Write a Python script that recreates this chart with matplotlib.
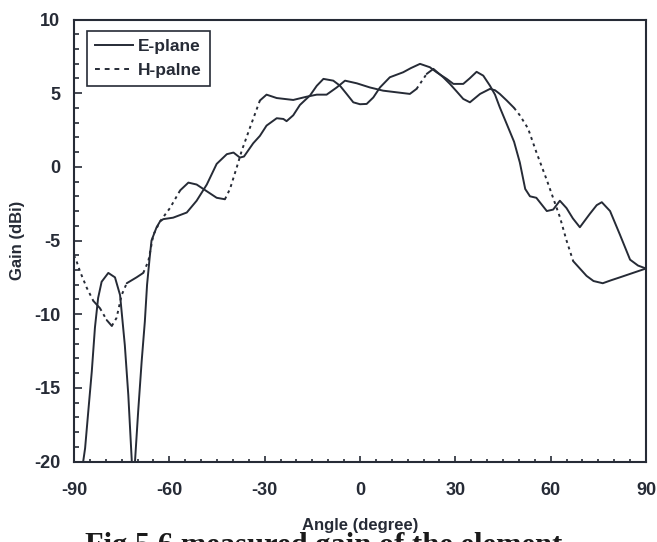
import numpy as np
import matplotlib
matplotlib.use('Agg')
import matplotlib.pyplot as plt
from matplotlib.lines import Line2D
from matplotlib.ticker import MultipleLocator

# Measured gain of the element, E-plane cut (angle in degree, gain in dBi)
e_angle = [-88.0, -87.1, -86.5, -85.5, -84.4, -83.4, -82.4, -81.3, -79.2, -77.1,
           -75.5, -74.0, -72.9, -71.8, -71.3, -70.8, -69.8, -68.7, -67.7, -67.0,
           -66.2, -65.6, -64.0, -62.9, -61.9, -58.8, -54.5, -51.4, -48.2, -45.1,
           -41.9, -39.8, -37.8, -36.5, -33.6, -31.5, -29.4, -26.2, -24.1, -23.1,
           -21.0, -18.9, -15.7, -13.6, -11.5, -8.4, -6.3, -4.2, -2.1, 0.0,
           2.1, 4.2, 6.3, 9.4, 13.6, 16.0, 18.9, 22.0, 24.1, 27.3,
           29.4, 32.5, 34.5, 36.7, 38.8, 40.9, 42.5, 44.0, 46.2, 48.5,
           50.3, 52.0, 53.5, 55.5, 58.8, 60.8, 62.9, 65.0, 67.0, 69.2,
           72.3, 74.5, 76.1, 78.7, 81.8, 85.0, 87.5, 90.0]
e_gain = [-24.0, -20.0, -19.1, -16.6, -13.9, -10.9, -8.9, -7.8, -7.2, -7.5,
          -8.7, -12.1, -15.5, -20.0, -24.0, -20.0, -16.6, -13.2, -10.5, -8.0,
          -6.2, -5.0, -4.1, -3.7, -3.55, -3.45, -3.1, -2.3, -1.2, 0.2,
          0.86, 0.97, 0.63, 0.7, 1.6, 2.1, 2.8, 3.3, 3.25, 3.1,
          3.5, 4.2, 4.85, 5.5, 5.97, 5.85, 5.51, 4.95, 4.38, 4.25,
          4.27, 4.71, 5.39, 6.08, 6.42, 6.7, 6.99, 6.76, 6.42, 5.97,
          5.63, 5.63, 6.0, 6.45, 6.19, 5.51, 4.9, 4.04, 2.9, 1.7,
          0.3, -1.5, -2.0, -2.1, -3.0, -2.9, -2.3, -2.8, -3.5, -4.1,
          -3.2, -2.6, -2.4, -3.0, -4.6, -6.3, -6.7, -6.9]

# H-plane cut
h_angle = [-90.0, -89.2, -88.1, -86.0, -83.9, -81.8, -79.7, -78.1, -76.6, -75.0,
           -73.4, -70.3, -68.2, -66.6, -65.0, -62.9, -59.8, -56.6, -54.0, -51.4,
           -49.3, -45.1, -42.5, -40.9, -38.8, -37.2, -34.6, -31.5, -29.4, -26.2,
           -21.0, -16.8, -13.6, -10.5, -7.3, -4.7, -1.0, 3.1, 7.3, 11.5,
           15.7, 17.8, 21.0, 23.1, 26.2, 28.3, 30.5, 32.5, 34.6, 37.8,
           40.9, 42.5, 44.0, 46.2, 48.5, 50.3, 52.9, 55.5, 58.8, 62.9,
           65.0, 67.1, 69.2, 71.3, 73.5, 76.4, 79.0, 81.8, 85.9, 90.0]
h_gain = [-6.0, -6.4, -7.1, -8.2, -9.1, -9.6, -10.4, -10.8, -10.25, -8.7,
          -7.9, -7.5, -7.2, -6.4, -4.6, -3.7, -2.8, -1.6, -1.07, -1.2,
          -1.5, -2.1, -2.2, -1.5, -0.05, 1.1, 2.67, 4.5, 4.9, 4.67,
          4.54, 4.76, 4.9, 4.9, 5.39, 5.85, 5.67, 5.39, 5.17, 5.06,
          4.95, 5.29, 6.31, 6.65, 6.08, 5.63, 5.1, 4.61, 4.38, 4.95,
          5.29, 5.2, 4.95, 4.5, 4.0, 3.5, 2.6, 1.0, -0.9, -3.4,
          -5.0, -6.4, -6.9, -7.4, -7.75, -7.9, -7.7, -7.5, -7.2, -6.9]

x_ticks = [-90, -60, -30, 0, 30, 60, 90]
y_ticks = [-20, -15, -10, -5, 0, 5, 10]

ink = '#262b36'
plt.rcParams['font.family'] = 'Liberation Sans'
plt.rcParams['axes.unicode_minus'] = False


def plot_h_line(ax, x, y, lw):
    # the dots only show up where the curve is steep, flat parts print solid
    x = np.asarray(x)
    y = np.asarray(y)
    pts = ax.transData.transform(np.column_stack([x, y]))
    d = np.diff(pts, axis=0)
    steep = np.abs(d[:, 1]) > 1.2 * np.abs(d[:, 0])
    start = 0
    for i in range(1, len(steep) + 1):
        if i == len(steep) or steep[i] != steep[start]:
            ls = (0, (1.5, 2.0)) if steep[start] else '-'
            ax.plot(x[start:i + 1], y[start:i + 1], color=ink, lw=lw, ls=ls,
                    solid_capstyle='round', solid_joinstyle='round')
            start = i


fig = plt.figure(figsize=(6.57, 5.42), dpi=100)
fig.patch.set_facecolor('white')
ax = fig.add_axes([0.1126, 0.1485, 0.8706, 0.8155])
ax.set_xlim(-90, 90)
ax.set_ylim(-20, 10)

lw = 1.4
ax.plot(e_angle, e_gain, color=ink, lw=lw, solid_joinstyle='round')
plot_h_line(ax, h_angle, h_gain, lw)

# axis / ticks
ax.set_xticks(x_ticks)
ax.set_yticks(y_ticks)
ax.xaxis.set_minor_locator(MultipleLocator(5))
ax.yaxis.set_minor_locator(MultipleLocator(1))
ax.tick_params(axis='both', which='both', direction='in', top=False, right=False,
               color=ink, width=1.2, labelcolor=ink)
ax.tick_params(axis='x', which='major', length=4.5, pad=15)
ax.tick_params(axis='x', which='minor', length=2.5)
ax.tick_params(axis='y', which='major', length=5.5, pad=10)
ax.tick_params(axis='y', which='minor', length=3.5)
for lab in ax.get_xticklabels() + ax.get_yticklabels():
    lab.set_fontsize(13)
    lab.set_fontweight('bold')
for sp in ax.spines.values():
    sp.set_color(ink)
    sp.set_linewidth(1.5)

ax.set_xlabel('Angle (degree)', fontsize=12, fontweight='bold', color=ink)
ax.set_ylabel('Gain (dBi)', fontsize=12, fontweight='bold', color=ink)
ax.xaxis.set_label_coords(0.5, -0.128)
ax.yaxis.set_label_coords(-0.085, 0.5)

handles = [Line2D([], [], color=ink, lw=lw),
           Line2D([], [], color=ink, lw=lw, ls=(0, (2.5, 2.5)))]
leg = ax.legend(handles, ['E-plane', 'H-palne'], loc='upper left',
                bbox_to_anchor=(0.0227, 0.973), borderaxespad=0,
                fancybox=False, framealpha=1, edgecolor=ink,
                prop={'size': 12.5, 'weight': 'bold'},
                handlelength=2.2, handletextpad=0.3, labelspacing=0.5,
                borderpad=0.45)
leg.get_frame().set_linewidth(1.2)
for t in leg.get_texts():
    t.set_color(ink)

# figure caption, only its top shows at the bottom edge
fig.text(0.129, 1 - 532 / 542, 'Fig 5.6 measured gain of the element',
         family='Liberation Serif', fontsize=22, fontweight='bold',
         ha='left', va='top', color='#1a1a1a')

fig.savefig('out.png', dpi=100, facecolor='white')
